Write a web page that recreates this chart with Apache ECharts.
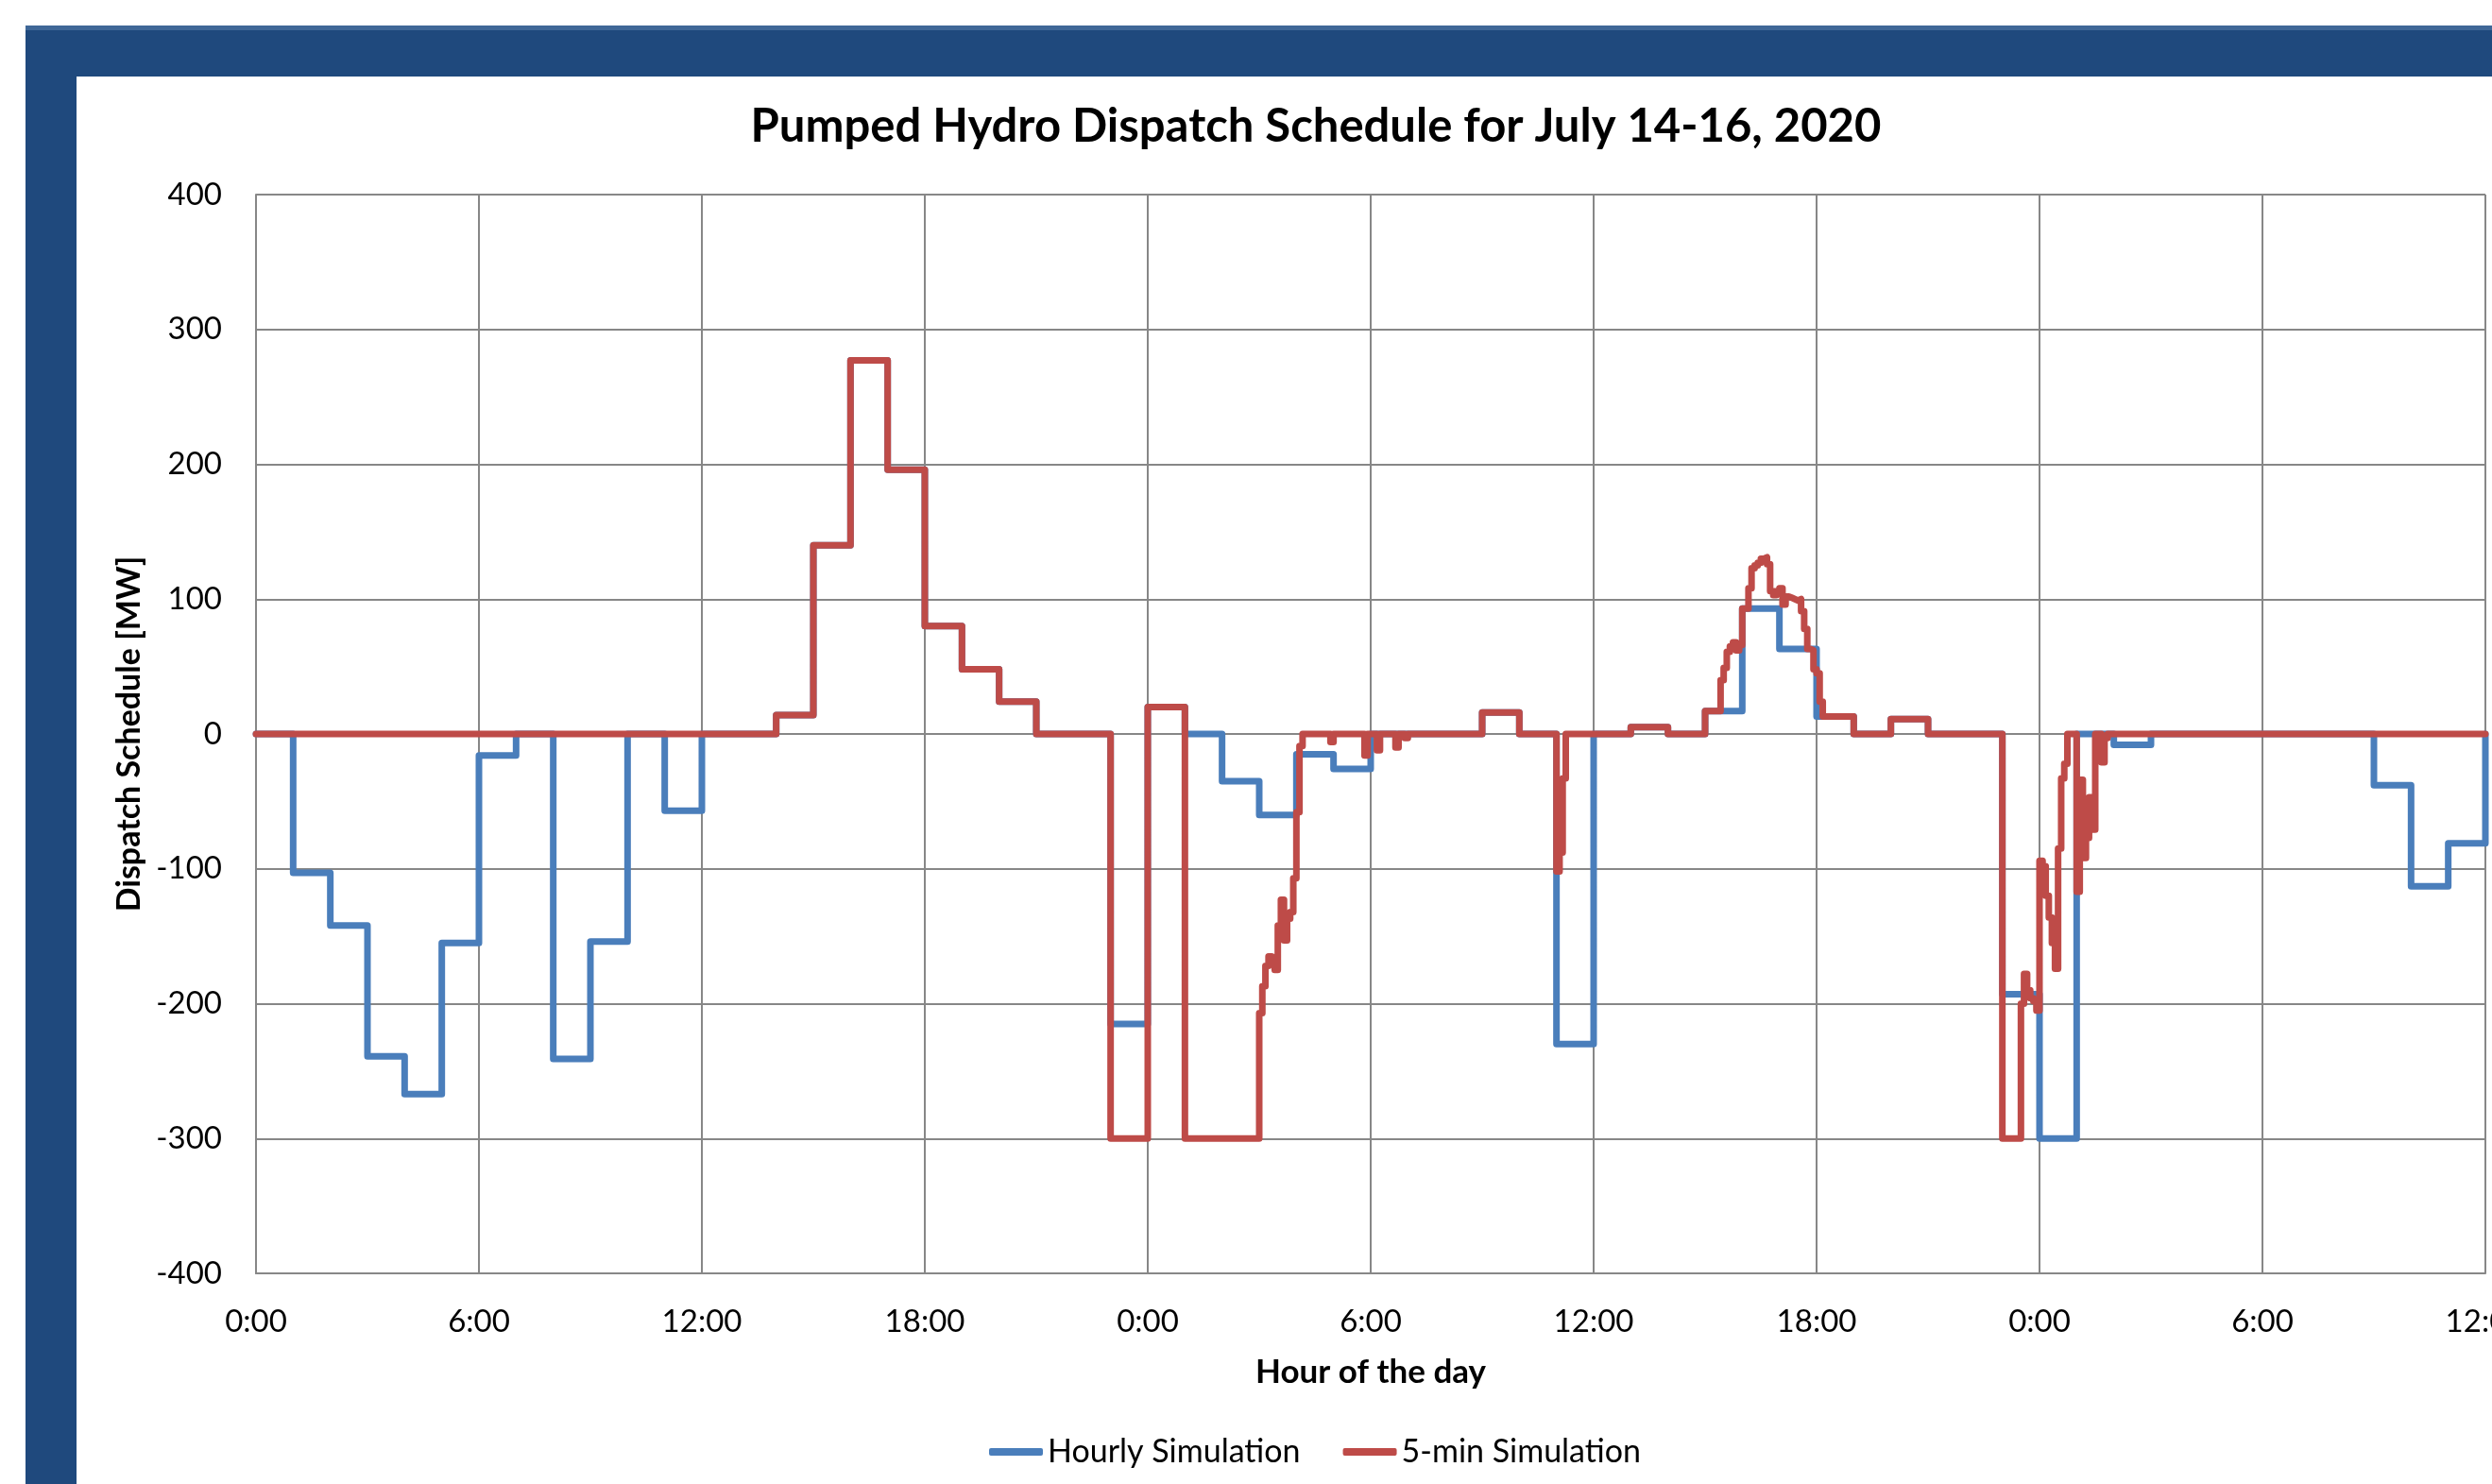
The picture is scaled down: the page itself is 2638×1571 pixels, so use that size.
<!DOCTYPE html>
<html><head><meta charset="utf-8">
<script src="https://cdn.jsdelivr.net/npm/echarts@6/dist/echarts.min.js"></script>
<style>html,body{margin:0;padding:0;background:#fff;overflow:hidden}#c{width:2638px;height:1571px}</style>
</head><body><div id="c"></div>
<script>
// ---------- data ----------
const chartTitle = 'Pumped Hydro Dispatch Schedule for July 14-16, 2020';
const yAxisTitle = 'Dispatch Schedule [MW]';
const xAxisTitle = 'Hour of the day';
const seriesNames = ['Hourly Simulation', '5-min Simulation'];
const xTickLabels = ['0:00','6:00','12:00','18:00','0:00','6:00','12:00','18:00','0:00','6:00','12:00'];

// Hourly Simulation: one value per hour, hour 0 .. hour 60
const hourlyMW = [
  0, -103, -142, -239, -267, -155, -16, 0, -241, -154, 0, -57,
  0, 0, 14, 140, 277, 196, 80, 48, 24, 0, 0, -215,
  20, 0, -35, -60, -15, -26, 0, 0, 0, 16, 0, -230,
  0, 5, 0, 17, 93, 63, 13, 0, 11, 0, 0, -193,
  -300, 0, -8, 0, 0, 0, 0, 0, 0, -38, -113, -81,
  0
];

// 5-min Simulation: change points, as 5-minute slot index (12 per hour) and MW value from that slot on
const fiveMinSlot = [
  0, 168, 180, 192, 204, 216, 228, 240, 252, 276, 288, 300,
  324, 325, 326, 327, 328, 329, 330, 331, 332, 333, 334, 335, 336, 337, 338,
  347, 348, 358, 359, 362, 363, 368, 369, 371, 372,
  396, 408, 420, 421, 422, 423, 444, 456,
  468, 473, 474, 475, 476, 477, 478, 479, 480, 482, 483, 484, 485, 486, 487, 488, 489,
  490, 491, 492, 493, 494, 495, 496, 497, 498, 499, 500, 501, 502, 503, 504, 505, 506,
  516, 528, 540, 564,
  570, 571, 572, 573, 574, 575, 576, 577, 578, 579, 580, 581, 582, 583, 584, 585,
  588, 589, 590, 591, 592, 593, 594, 596, 597, 598, 720
];
const fiveMinMW = [
  0, 14, 140, 277, 196, 80, 48, 24, 0, -300, 20, -300,
  -207, -187, -172, -165, -166, -175, -142, -123, -153, -137, -132, -107, -58, -9, 0,
  -6, 0, -16, 0, -12, 0, -10, 0, -3, 0,
  16, 0, -102, -88, -33, 0, 5, 0,
  17, 40, 49, 61, 65, 68, 62, 66, 93, 108, 123, 125, 127, 130, 131, 126, 106,
  103, 106, 108, 96, 102, 101, 100, 99, 100, 91, 78, 63, 62, 48, 45, 24, 13,
  0, 11, 0, -300,
  -200, -178, -190, -196, -198, -205, -94, -98, -120, -136, -155, -174, -85, -33, -22, 0,
  -117, -34, -92, -77, -47, -71, 0, -21, -3, 0, 0
];

// ---------- chart ----------
const FONT = 'Lato';
const chart = echarts.init(document.getElementById('c'), null, {renderer: 'canvas'});
const gridColor = '#878787';

const hourlyData = hourlyMW.map((v, i) => [i, v]);
const fiveMinData = fiveMinSlot.map((s, i) => [s / 12, fiveMinMW[i]]);

chart.setOption({
  animation: false,
  backgroundColor: '#ffffff',
  graphic: [
    {type: 'rect', silent: true, z: -10, shape: {x: 27, y: 27, width: 2700, height: 1700}, style: {fill: '#1F497D'}},
    {type: 'rect', silent: true, z: -9, shape: {x: 27, y: 27, width: 2700, height: 5}, style: {fill: '#3F6797'}},
    {type: 'rect', silent: true, z: -8, shape: {x: 81, y: 81, width: 2700, height: 1700}, style: {fill: '#ffffff'}}
  ],
  title: {
    text: chartTitle,
    left: 1393, textAlign: 'center', top: 110, padding: 0,
    textStyle: {fontFamily: FONT, fontWeight: 'bold', fontSize: 49, color: '#000'}
  },
  legend: {
    data: seriesNames,
    left: 1047, top: 1520, padding: 0,
    itemGap: 45, itemWidth: 57, itemHeight: 8,
    icon: 'roundRect',
    textStyle: {fontFamily: FONT, fontSize: 34, color: '#000'}
  },
  grid: {left: 271, top: 206, right: 7, bottom: 223, containLabel: false, outerBoundsMode: 'none'},
  xAxis: {
    type: 'value', min: 0, max: 60, interval: 6,
    name: xAxisTitle, nameLocation: 'middle', nameGap: 87,
    nameTextStyle: {fontFamily: FONT, fontWeight: 'bold', fontSize: 35, color: '#000'},
    axisLine: {onZero: false, lineStyle: {color: gridColor, width: 2}},
    axisTick: {show: false},
    axisLabel: {
      margin: 35, fontFamily: FONT, fontSize: 33, color: '#000',
      formatter: v => xTickLabels[Math.round(v / 6)]
    },
    splitLine: {show: true, lineStyle: {color: gridColor, width: 2}}
  },
  yAxis: {
    type: 'value', min: -400, max: 400, interval: 100,
    name: yAxisTitle, nameLocation: 'middle', nameRotate: 90, nameGap: 110,
    nameTextStyle: {fontFamily: FONT, fontWeight: 'bold', fontSize: 34, color: '#000'},
    axisLine: {show: true, lineStyle: {color: gridColor, width: 2}},
    axisTick: {show: false},
    axisLabel: {margin: 36, fontFamily: FONT, fontSize: 33, color: '#000'},
    splitLine: {show: true, lineStyle: {color: gridColor, width: 2}}
  },
  series: [
    {
      name: seriesNames[0], type: 'line', step: 'end', data: hourlyData,
      showSymbol: false, symbol: 'none', color: '#4A7EBB',
      lineStyle: {width: 7, color: '#4A7EBB', cap: 'round', join: 'round'}, z: 2
    },
    {
      name: seriesNames[1], type: 'line', step: 'end', data: fiveMinData,
      showSymbol: false, symbol: 'none', color: '#BE4B48',
      lineStyle: {width: 7, color: '#BE4B48', cap: 'round', join: 'round'}, z: 3
    }
  ]
});
</script>
</body></html>
